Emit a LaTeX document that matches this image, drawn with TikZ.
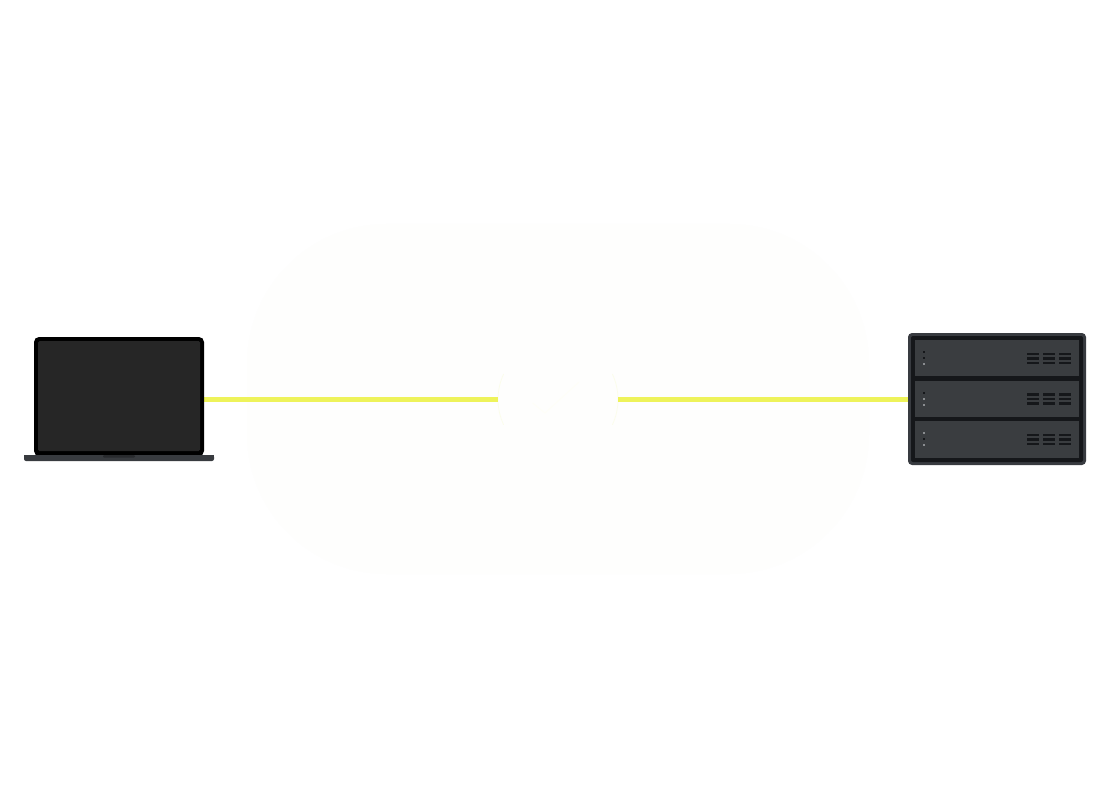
\documentclass[tikz,border=0pt]{standalone}
\definecolor{wire}{HTML}{EEF35A}
\definecolor{haze}{HTML}{FEFEFD}
\definecolor{hubedge}{HTML}{FBFDEA}
\definecolor{tickc}{HTML}{FEFEF8}
\definecolor{lapblack}{HTML}{000000}
\definecolor{lapscreen}{HTML}{262626}
\definecolor{lapbase}{HTML}{383B3F}
\definecolor{lapnotch}{HTML}{282A2D}
\definecolor{srvedge}{HTML}{383B40}
\definecolor{srvdark}{HTML}{15171A}
\definecolor{srvpanel}{HTML}{3A3D40}
\definecolor{ledgrey}{HTML}{8A8D90}
\tikzset{
  x=1pt,y=-1pt,
  wireline/.style={draw=wire,line width=5.8pt},
  panel/.style={fill=srvpanel},
  vent/.style={fill=srvdark},
  ledd/.style={fill=srvdark},
  ledg/.style={fill=ledgrey},
  hubnode/.style={circle,minimum size=120pt,inner sep=0pt,fill=haze},
  hubring/.style={draw=hubedge,line width=.7pt},
  box/.style={inner sep=0pt,outer sep=0pt,rectangle}
}
\newcommand{\vents}[1]{%
  \foreach \vx in {1026.7,1043,1059}{%
    \foreach \vd in {-4.4,0,4.4}{%
      \fill[vent] (\vx,#1+\vd-1.3) rectangle ++(12.3,2.6);
    }
  }%
}
\newcommand{\led}[3]{\fill[#1] (923,#3-1) rectangle ++(2,2);}
\begin{document}
\begin{tikzpicture}
\useasboundingbox (0,0) rectangle (1116,802);
\fill[white] (0,0) rectangle (1116,802);
% faint haze
\fill[haze,rounded corners=140pt] (247,224) rectangle (869,574);
% hub
\node[hubnode] (hub) at (558,399.4) {};
\draw[hubring] (hub.center) ++(155:60) arc[start angle=155,end angle=205,radius=60];
\draw[hubring] (hub.center) ++(-25:60) arc[start angle=-25,end angle=25,radius=60];
\draw[tickc,line width=1pt] (532.6,403) -- (545,413) -- (579,382);
% connectors
\coordinate (lapout) at (200,399.4);
\coordinate (srvin) at (912,399.4);
\draw[wireline] (lapout) -- (hub.west);
\draw[wireline] (hub.east) -- (srvin);
% laptop
\fill[lapblack,rounded corners=5pt] (34,456) -- (34,337) -- (204,337) -- (204,456) -- cycle;
\node[box,fill=lapscreen,minimum width=162pt,minimum height=110pt,rounded corners=1.5pt] (laptop) at (119,396) {};
\fill[lapbase,rounded corners=2pt] (24,455) -- (24,461) -- (214,461) -- (214,455) -- cycle;
\fill[lapbase] (24,455) rectangle (214,458);
\fill[lapnotch,rounded corners=1pt] (103,455) -- (103,457.6) -- (135,457.6) -- (135,455) -- cycle;
% server
\node[box,fill=srvedge,minimum width=178pt,minimum height=132pt,rounded corners=4pt] (server) at (997,399) {};
\fill[srvdark,rounded corners=2pt] (911,336) rectangle (1083,462);
\fill[panel] (915,340) rectangle (1079,376.4);
\fill[panel] (915,380.6) rectangle (1079,417);
\fill[panel] (915,421) rectangle (1079,458);
\vents{358.4}
\vents{398.8}
\vents{439.4}
\led{ledd}{1}{352.3}\led{ledd}{1}{358.3}\led{ledg}{1}{364.3}
\led{ledd}{1}{392.7}\led{ledg}{1}{398.7}\led{ledg}{1}{404.7}
\led{ledg}{1}{433.3}\led{ledd}{1}{439.3}\led{ledg}{1}{445.3}
\end{tikzpicture}
\end{document}
